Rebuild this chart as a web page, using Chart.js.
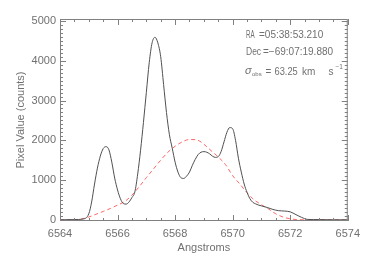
<!DOCTYPE html>
<html>
<head>
<meta charset="utf-8">
<script src="https://cdn.jsdelivr.net/npm/chart.js@4"></script>
<style>
  body { margin: 0; background: #fff; }
</style>
</head>
<body>
<canvas id="spectrum" width="366" height="261"></canvas>
<script>
// observed line profile (Angstroms, counts)
const obsWave = [6564.0, 6564.5, 6564.8, 6565.0, 6565.1, 6565.2, 6565.3, 6565.4, 6565.5, 6565.6,
  6565.7, 6565.8, 6565.9, 6566.0, 6566.1, 6566.2, 6566.3, 6566.4, 6566.5, 6566.6,
  6566.7, 6566.8, 6566.9, 6567.0, 6567.1, 6567.2, 6567.3, 6567.4, 6567.5, 6567.6,
  6567.7, 6567.8, 6567.9, 6568.0, 6568.1, 6568.2, 6568.3, 6568.4, 6568.5, 6568.6,
  6568.7, 6568.8, 6568.9, 6569.0, 6569.1, 6569.2, 6569.3, 6569.4, 6569.5, 6569.6,
  6569.7, 6569.8, 6569.9, 6570.0, 6570.1, 6570.2, 6570.3, 6570.4, 6570.5, 6570.6,
  6570.7, 6570.8, 6570.9, 6571.0, 6571.2, 6571.4, 6571.6, 6571.8, 6572.0, 6572.2,
  6572.4, 6572.6, 6573.0, 6573.5, 6574.0];
const obsCounts = [0, 5, 20, 150, 450, 900, 1300, 1600, 1790, 1840,
  1760, 1450, 1050, 750, 530, 410, 395, 450, 560, 700,
  1150, 1750, 2450, 3200, 3950, 4450, 4590, 4450, 4100, 3400,
  2700, 2150, 1800, 1450, 1200, 1060, 1040, 1100, 1200, 1370,
  1520, 1640, 1700, 1715, 1700, 1660, 1600, 1570, 1590, 1720,
  1960, 2200, 2320, 2290, 2000, 1550, 1200, 900, 690, 530,
  440, 400, 370, 350, 310, 260, 230, 220, 200, 130,
  60, 10, 5, 0, 0];

// fitted single component (red dashed)
const fitWave = [6564.0, 6564.5, 6564.75, 6565.0, 6565.25, 6565.5, 6565.75, 6566.0, 6566.25, 6566.5,
  6566.75, 6567.0, 6567.25, 6567.5, 6567.75, 6568.0, 6568.25, 6568.5, 6568.75, 6569.0,
  6569.25, 6569.5, 6569.75, 6570.0, 6570.25, 6570.5, 6570.75, 6571.0, 6571.25, 6571.5,
  6571.75, 6572.0, 6572.25, 6572.5, 6574.0];
const fitCounts = [0, 5, 20, 70, 140, 210, 285, 370, 460, 620,
  830, 1060, 1280, 1500, 1700, 1850, 1960, 2020, 2010, 1900,
  1740, 1580, 1390, 1110, 900, 680, 500, 380, 270, 150,
  70, 25, 5, 0, 0];

const xTicks = [6564, 6566, 6568, 6570, 6572, 6574];
const yTicks = [0, 1000, 2000, 3000, 4000, 5000];

const axisColor = '#808080';
const textColor = '#707070';
const fontFam = '"Liberation Sans", Arial, sans-serif';

// narrow label text, like the plotting package's vector font
function narrowText(ctx, txt, x, y, sx) {
  ctx.save();
  ctx.translate(x, y);
  ctx.scale(sx, 1);
  ctx.fillText(txt, 0, 0);
  ctx.restore();
}

const idlAxes = {
  id: 'idlAxes',
  afterDraw(chart) {
    const { ctx, chartArea: { left, right, top, bottom }, scales: { x, y } } = chart;
    ctx.save();
    ctx.strokeStyle = axisColor;
    ctx.lineWidth = 1;
    ctx.strokeRect(left + 0.5, top + 0.5, right - left - 1, bottom - top - 1);
    ctx.beginPath();
    for (let v = 6564; v <= 6574.001; v += 0.5) {
      const px = Math.round(x.getPixelForValue(v)) + 0.5;
      const len = Math.abs(v % 2) < 0.01 ? 6 : 3;
      ctx.moveTo(px, bottom); ctx.lineTo(px, bottom - len);
      ctx.moveTo(px, top); ctx.lineTo(px, top + len);
    }
    for (let v = 0; v <= 5000; v += 100) {
      const py = Math.round(y.getPixelForValue(v)) + 0.5;
      const len = v % 1000 === 0 ? 6 : 3;
      ctx.moveTo(left, py); ctx.lineTo(left + len, py);
      ctx.moveTo(right, py); ctx.lineTo(right - len, py);
    }
    ctx.stroke();

    // annotation text
    ctx.fillStyle = textColor;
    ctx.textBaseline = 'middle';
    ctx.font = '10px ' + fontFam;
    narrowText(ctx, 'RA', 246, 35, 0.62);
    narrowText(ctx, 'Dec', 246, 52, 0.85);
    ctx.fillText('=05:38:53.210', 259, 35);
    ctx.fillText('=\u221269:07:19.880', 263, 52);
    ctx.font = 'italic 11px ' + fontFam;
    ctx.fillText('\u03c3', 245, 71);
    ctx.font = '6px ' + fontFam;
    ctx.fillText('obs', 252, 74);
    ctx.font = '10px ' + fontFam;
    ctx.fillText('=', 265.5, 72);
    narrowText(ctx, '63.25', 274.5, 72, 0.93);
    ctx.fillText('km', 302, 72);
    ctx.fillText('s', 328.5, 72);
    ctx.font = '6.5px ' + fontFam;
    ctx.fillText('\u22121', 335.5, 67);
    ctx.restore();
  }
};

new Chart(document.getElementById('spectrum'), {
  type: 'line',
  data: {
    datasets: [{
      label: 'observed',
      data: obsWave.map((w, i) => ({ x: w, y: obsCounts[i] })),
      borderColor: '#505050',
      borderWidth: 1,
      pointRadius: 0,
      cubicInterpolationMode: 'monotone'
    }, {
      label: 'fit',
      data: fitWave.map((w, i) => ({ x: w, y: fitCounts[i] })),
      borderColor: '#ff6666',
      borderWidth: 1,
      borderDash: [4, 3],
      pointRadius: 0,
      cubicInterpolationMode: 'monotone'
    }]
  },
  options: {
    responsive: false,
    animation: false,
    devicePixelRatio: 1,
    layout: { padding: { left: 0, right: 18, top: 19, bottom: 0 } },
    plugins: {
      legend: { display: false },
      tooltip: { enabled: false }
    },
    scales: {
      x: {
        type: 'linear',
        min: 6564,
        max: 6574,
        afterBuildTicks: s => { s.ticks = xTicks.map(v => ({ value: v })); },
        afterFit: s => { s.height = 40; },
        ticks: {
          color: textColor,
          font: { size: 11, family: fontFam },
          padding: 6,
          maxRotation: 0,
          callback: v => String(v)
        },
        grid: { display: false, drawTicks: false },
        border: { display: false },
        title: {
          display: true,
          text: 'Angstroms',
          color: textColor,
          font: { size: 11, family: fontFam },
          padding: { top: 8, bottom: 6 }
        }
      },
      y: {
        min: -30,
        max: 5050,
        afterBuildTicks: s => { s.ticks = yTicks.map(v => ({ value: v })); },
        afterFit: s => { s.width = 60; },
        ticks: {
          color: textColor,
          font: { size: 11, family: fontFam },
          padding: 4,
          callback: v => String(v)
        },
        grid: { display: false, drawTicks: false },
        border: { display: false },
        title: {
          display: true,
          text: 'Pixel Value (counts)',
          color: textColor,
          font: { size: 11, family: fontFam },
          padding: 14
        }
      }
    }
  },
  plugins: [idlAxes]
});
</script>
</body>
</html>
